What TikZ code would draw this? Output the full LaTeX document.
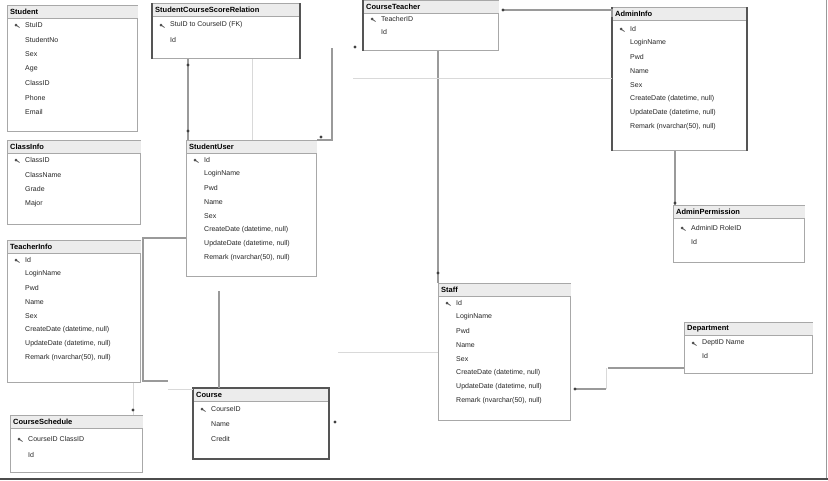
\documentclass[tikz,border=0pt]{standalone}
\usepackage{fontspec}
\setmainfont{Liberation Sans}

\definecolor{tblgray}{HTML}{A8A8A8}
\definecolor{hdrgray}{HTML}{ECECEC}
\definecolor{edgedark}{HTML}{555555}
\definecolor{linkgray}{HTML}{9A9A9A}

\tikzset{
  tbl/.style={draw=tblgray, line width=1pt, fill=white, anchor=north west, inner sep=0pt},
  hdr/.style={fill=hdrgray},
  ttl/.style={anchor=west, inner sep=0pt, font=\fontsize{7.5}{8}\selectfont\bfseries},
  fld/.style={anchor=west, inner sep=0pt, text=black!85, font=\fontsize{7}{8}\selectfont},
  link/.style={draw=linkgray, line width=1.3pt},
  faint/.style={draw=black!15, line width=0.8pt},
  selside/.style={draw=edgedark, line width=1.6pt},
  endmark/.style={fill=black!75},
  pkey/.pic={\fill[black!70] (0pt,0pt) circle (1.5pt);
             \draw[black!70, line width=0.7pt] (0pt,0pt) -- (3.5pt,-2.5pt);}
}

% table: name, x, y, width, height, title
\newcommand{\dbtable}[6]{%
  \node[tbl, minimum width=#4, minimum height=#5] (#1) at (#2,#3) {};
  \fill[hdr] ([shift={(0.5pt,-0.5pt)}]#1.north west) rectangle ([shift={(-0.5pt,-13pt)}]#1.north east);
  \draw[tblgray, line width=0.8pt] ([yshift=-13pt]#1.north west) -- ([yshift=-13pt]#1.north east);
  \node[ttl] (#1-ttl) at ([shift={(3pt,-7pt)}]#1.north west) {#6};
}
% rows: table, first offset, step, fields
\newcommand{\dbrows}[4]{%
  \pic at ([shift={(9pt,-#2pt)}]#1.north west) {pkey};
  \foreach \fname [count=\i] in {#4}
    \node[fld] (#1-r\i) at ([shift={(18pt,{-(#2+(\i-1)*#3)*1pt})}]#1.north west) {\fname};
}

\begin{document}
\begin{tikzpicture}[x=1pt,y=-1pt]
  \useasboundingbox (0,0) rectangle (828,480);

  % tables
  \dbtable{stu}{7}{5}{130}{126}{Student}
  \dbrows{stu}{20}{14.5}{StuID, StudentNo, Sex, Age, ClassID, Phone, Email}

  \dbtable{stc}{152}{3}{147}{55}{StudentCourseScoreRelation}
  \dbrows{stc}{22}{15}{StuID to CourseID (FK), Id}

  \dbtable{cls}{7}{140}{133}{84}{ClassInfo}
  \dbrows{cls}{20}{14.5}{ClassID, ClassName, Grade, Major}

  \dbtable{users}{186}{140}{130}{136}{StudentUser}
  \dbrows{users}{20}{14}{Id, LoginName, Pwd, Name, Sex, {CreateDate (datetime, null)}, {UpdateDate (datetime, null)}, {Remark (nvarchar(50), null)}}

  \dbtable{teach}{7}{240}{133}{142}{TeacherInfo}
  \dbrows{teach}{20}{14}{Id, LoginName, Pwd, Name, Sex, {CreateDate (datetime, null)}, {UpdateDate (datetime, null)}, {Remark (nvarchar(50), null)}}

  \dbtable{sched}{10}{415}{132}{57}{CourseSchedule}
  \dbrows{sched}{24}{16}{CourseID ClassID, Id}

  \dbtable{course}{193}{388}{135}{70}{Course}
  \dbrows{course}{21}{15}{CourseID, Name, Credit}

  \dbtable{ctr}{363}{0}{135}{50}{CourseTeacher}
  \dbrows{ctr}{19}{13}{TeacherID, Id}

  \dbtable{admin}{612}{7}{134}{143}{AdminInfo}
  \dbrows{admin}{22}{14}{Id, LoginName, Pwd, Name, Sex, {CreateDate (datetime, null)}, {UpdateDate (datetime, null)}, {Remark (nvarchar(50), null)}}

  \dbtable{perm}{673}{205}{131}{57}{AdminPermission}
  \dbrows{perm}{23}{14}{AdminID RoleID, Id}

  \dbtable{emp}{438}{283}{132}{137}{Staff}
  \dbrows{emp}{20}{14}{Id, LoginName, Pwd, Name, Sex, {CreateDate (datetime, null)}, {UpdateDate (datetime, null)}, {Remark (nvarchar(50), null)}}

  \dbtable{dept}{684}{322}{128}{51}{Department}
  \dbrows{dept}{21}{13}{DeptID Name, Id}

  % selected table edges
  \draw[selside] (stc.north west) -- (stc.south west);
  \draw[selside] (stc.north east) -- (stc.south east);
  \draw[selside] (course.north west) rectangle (course.south east);
  \draw[selside] (admin.north west) -- (admin.south west);
  \draw[selside] (admin.north east) -- (admin.south east);
  \draw[selside] (ctr.north west) -- (ctr.south west);

  % free ends
  \coordinate (topr) at (332,48);
  \coordinate (midl) at (353,78);
  \coordinate (bendl) at (143,381);
  \coordinate (stubl) at (168,389);
  \coordinate (jog) at (606,389);
  \coordinate (lowl) at (338,352);

  % relations
  \draw[link] ([xshift=36pt]stc.south west) -- ([xshift=36pt]stc.south west |- users.north);
  \draw[faint] ([xshift=100pt]stc.south west) -- ([xshift=100pt]stc.south west |- users.north);
  \draw[link] (topr) -- (topr |- users.north east) -- (users.north east);
  \draw[link] ([xshift=75pt]ctr.south west) -- ([xshift=75pt]ctr.south west |- emp.north);
  \draw[link] ([shift={(5pt,-10pt)}]ctr.north east) -- ([yshift=-3pt]admin.north west) -- ([yshift=-10pt]admin.north west);
  \draw[faint] (midl) -- (midl -| admin.west);
  \draw[link] ([xshift=63pt]admin.south west) -- ([xshift=63pt]admin.south west |- perm.north);
  \draw[link] ([yshift=-98pt]users.north west) -| (bendl) -- ++(25,0);
  \draw[faint] (stubl) -- ([yshift=-1pt]course.north west);
  \draw[link] ([xshift=33pt,yshift=-14pt]users.south west) -- ([xshift=33pt]users.south west |- course.north);
  \draw[faint] ([xshift=126pt]teach.south west) -- ([xshift=126pt]teach.south west |- sched.north);
  \draw[link] ([xshift=5pt,yshift=-106pt]emp.north east) -- (jog);
  \draw[faint] (jog) -- ++(0,-21);
  \draw[link] ([shift={(-76pt,-46pt)}]dept.north west) -- ([yshift=-46pt]dept.north west);
  \draw[faint] (lowl) -- (lowl -| emp.west);

  % relation end marks
  \foreach \mx/\my in {188/65, 188/131, 321/137, 438/273, 503/10, 355/47, 675/203, 133/410, 335/422, 575/389}
    \fill[endmark] (\mx,\my) circle (1.6pt);

  % window edges
  \draw[black!40, line width=1pt] (826,0) -- (826,478);
  \draw[black!70, line width=2pt] (0,479) -- (828,479);
\end{tikzpicture}
\end{document}
